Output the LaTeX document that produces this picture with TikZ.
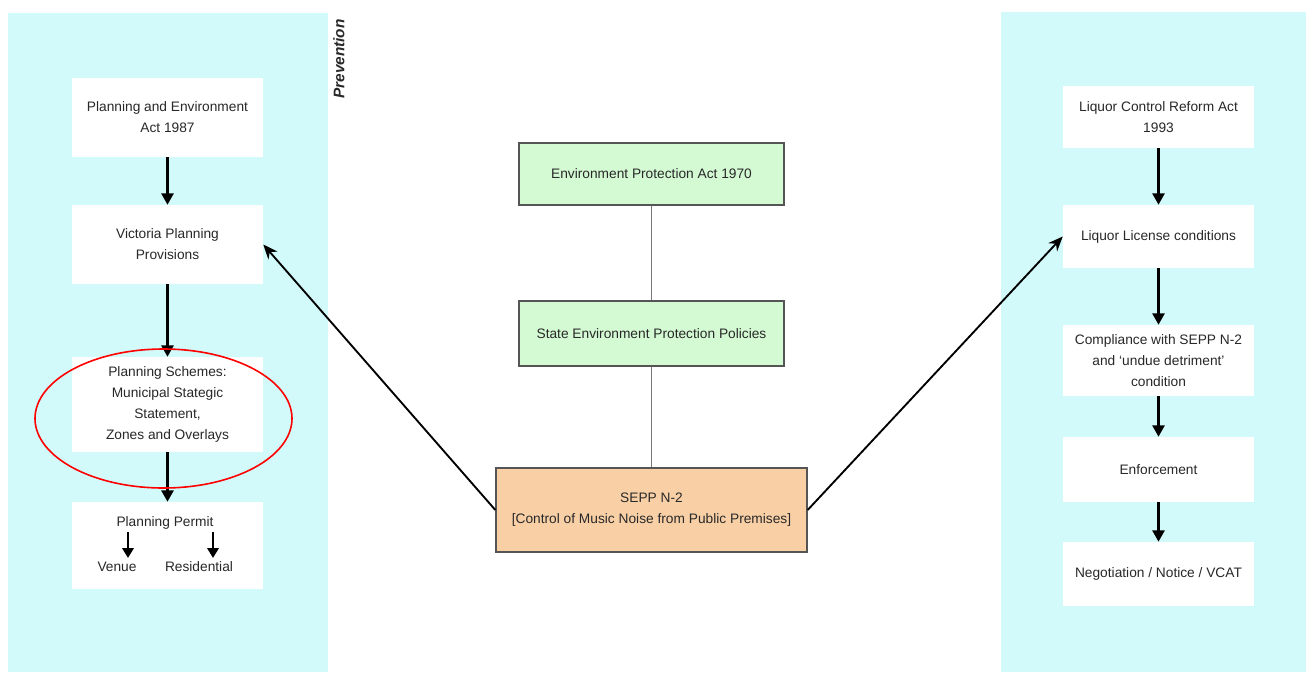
\documentclass[tikz,border=0pt]{standalone}
\usepackage{fontspec}
\setmainfont{Liberation Sans}
\usetikzlibrary{arrows.meta,shapes.geometric}
\definecolor{panel}{RGB}{211,250,250}
\definecolor{gfill}{RGB}{212,250,212}
\definecolor{ofill}{RGB}{249,208,166}
\definecolor{bgray}{RGB}{85,85,85}
\definecolor{lgray}{RGB}{120,120,120}
\definecolor{txt}{RGB}{40,40,40}
\begin{document}
\begin{tikzpicture}[x=0.75pt,y=-0.75pt,
  every node/.style={font=\fontsize{10.3}{15.8}\selectfont, text=txt},
  wbox/.style={fill=white, draw=none, minimum width=143.25pt, align=center, inner sep=0pt},
  rbox/.style={wbox},
  cbox/.style={draw=bgray, line width=1pt, align=center, inner sep=0pt},
  arr/.style={line width=1.9pt, -{Triangle[length=8.5pt,width=9pt]}},
  sarr/.style={line width=1.9pt, -{Triangle[length=7.5pt,width=8.5pt]}},
  darr/.style={line width=1.4pt, -{Stealth[length=11pt,width=9pt]}},
  link/.style={draw=lgray, line width=1.4pt}]
\useasboundingbox (0,0) rectangle (1306,672);
\fill[white] (0,0) rectangle (1306,672);
% panels
\fill[panel] (8,13) rectangle (328,672);
\fill[panel] (1001,12) rectangle (1306,672);
\node[rotate=90, font=\fontsize{11.5}{13}\selectfont\bfseries\itshape] (prev) at (339,59) {Prevention};
% left column
\node[wbox, minimum height=59.25pt] (L1) at (167.5,117.5) {Planning and Environment\\Act 1987};
\node[wbox, minimum height=59.25pt] (L2) at (167.5,244.5) {Victoria Planning\\Provisions};
\node[wbox, minimum height=71.25pt] (L3) at (167.5,404.5) {Planning Schemes:\\Municipal Stategic\\Statement,\\Zones and Overlays};
\node[wbox, minimum height=65.25pt] (L4) at (167.5,545.5) {};
\node (pp) at (165,523) {Planning Permit};
\node (venue) at (117,567) {Venue};
\node (resi) at (199,567) {Residential};
\coordinate (va) at (128,532);
\coordinate (vb) at (128,558);
\coordinate (ra) at (213,532);
\coordinate (rb) at (213,558);
\draw[sarr] (va) -- (vb);
\draw[sarr] (ra) -- (rb);
\draw[arr] (L1) -- (L2);
\draw[arr] (L2) -- (L3);
\draw[arr] (L3) -- (L4);
% right column
\node[rbox, minimum height=46.5pt] (R1) at (1158.5,117) {Liquor Control Reform Act\\1993};
\node[rbox, minimum height=47.25pt] (R2) at (1158.5,236.5) {Liquor License conditions};
\node[rbox, minimum height=53.25pt] (R3) at (1158.5,360.5) {Compliance with SEPP N-2\\and `undue detriment'\\condition};
\node[rbox, minimum height=48.75pt] (R4) at (1158.5,469.5) {Enforcement};
\node[rbox, minimum height=48pt] (R5) at (1158.5,574) {Negotiation / Notice / VCAT};
\draw[arr] (R1) -- (R2);
\draw[arr] (R2) -- (R3);
\draw[arr] (R3) -- (R4);
\draw[arr] (R4) -- (R5);
% centre column
\node[cbox, fill=gfill, minimum width=198.75pt, minimum height=46.5pt] (G1) at (651.5,174) {Environment Protection Act 1970};
\node[cbox, fill=gfill, minimum width=198.75pt, minimum height=48.75pt] (G2) at (651.5,333.5) {State Environment Protection Policies};
\node[cbox, fill=ofill, minimum width=233.25pt, minimum height=63pt] (O) at (651.5,510) {SEPP N-2\\{}[Control of Music Noise from Public Premises]};
\draw[link] (G1) -- (G2);
\draw[link] (G2) -- (O);
\draw[darr] (O.west) -- (L2.east);
\draw[darr] (O.east) -- (R2.west);
% highlight
\node[draw=red, line width=1.2pt, ellipse, inner sep=0pt, minimum width=192.75pt, minimum height=104.25pt] (ell) at (163.5,418.5) {};
\end{tikzpicture}
\end{document}
